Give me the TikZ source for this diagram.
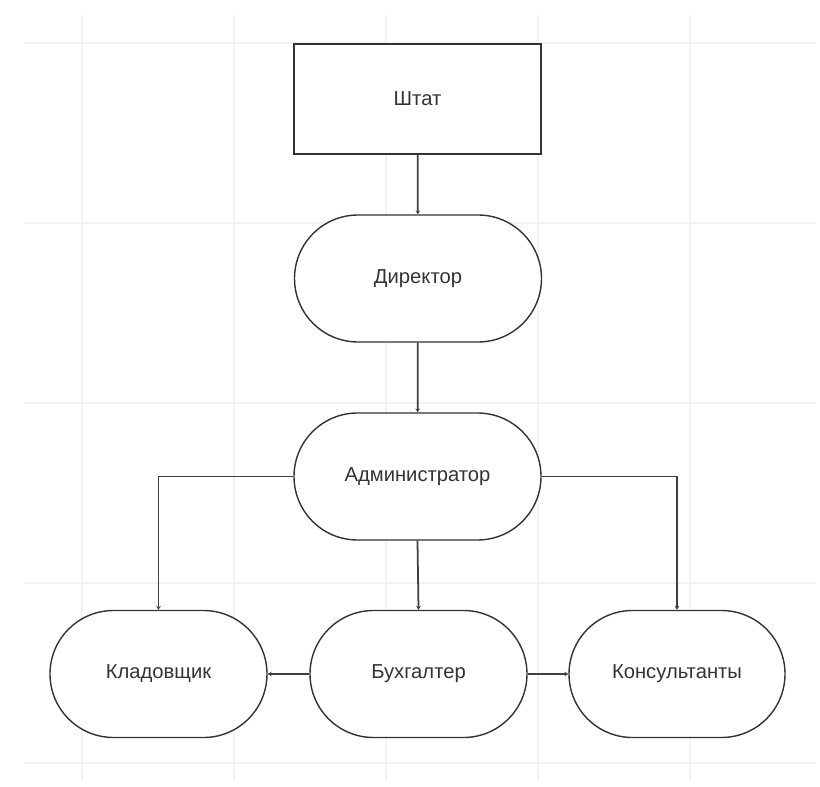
\documentclass[tikz,border=0pt]{standalone}
\usepackage{fontspec}
\setmainfont{Liberation Sans}
\usetikzlibrary{arrows.meta}

\begin{document}
\begin{tikzpicture}[
    box/.style={draw=black!80, line width=0.8pt, fill=white, text=black!80, minimum width=4.94cm, minimum height=2.2cm, inner sep=0pt, font=\fontsize{11.5}{13}\selectfont},
    pill/.style={box, minimum height=2.54cm, rounded corners=1.27cm},
    link/.style={draw=black!75, line width=1pt, -{Stealth[length=2.2pt,width=2.6pt]}}
]
    \useasboundingbox (0,0) rectangle (16.4,-15.74);
    % faint background grid
    \foreach \gx in {1.64,4.68,7.72,10.76,13.8}
        \draw[black!5, line width=0.8pt] (\gx,-0.3) -- (\gx,-15.6);
    \foreach \gy in {-0.86,-4.46,-8.06,-11.66,-15.26}
        \draw[black!5, line width=0.8pt] (0.5,\gy) -- (16.3,\gy);

    \node[box]  (shtat)    at (8.35,-1.98)  {Штат};
    \node[pill] (direktor) at (8.36,-5.57)  {Директор};
    \node[pill] (admin)    at (8.35,-9.53)  {Администратор};
    \node[pill, minimum width=4.34cm] (klad) at (3.17,-13.48)  {Кладовщик};
    \node[pill, minimum width=4.34cm] (buh)  at (8.37,-13.48)  {Бухгалтер};
    \node[pill, minimum width=4.32cm] (kons) at (13.54,-13.48) {Консультанты};

    \draw[link] (shtat) -- (direktor);
    \draw[link] (direktor) -- (admin);
    \draw[link] (admin.south) -- (buh.north);
    \draw[link] (admin.west) -| (klad.north);
    \draw[link] (admin.east) -| (kons.north);
    \draw[link] (buh) -- (klad);
    \draw[link] (buh) -- (kons);
\end{tikzpicture}
\end{document}
